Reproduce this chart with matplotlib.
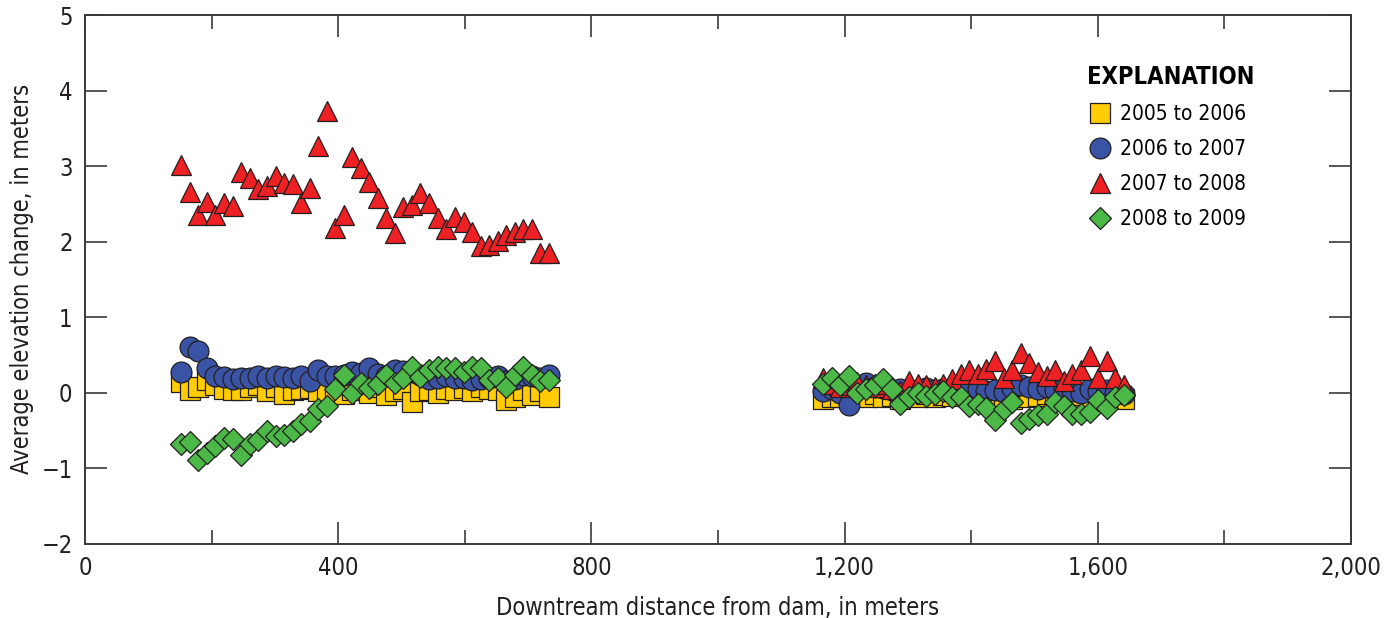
import matplotlib
matplotlib.use("Agg")
import matplotlib.pyplot as plt
from matplotlib.ticker import MultipleLocator, FuncFormatter

plt.rcParams['font.family'] = ['DejaVu Sans']
plt.rcParams['font.stretch'] = 'condensed'

# downstream distance of each sample, meters
x_left = [152, 166, 179, 193, 206, 220, 233, 247, 260, 274, 287, 301, 314, 328, 341,
          355, 368, 382, 395, 409, 422, 436, 449, 463, 476, 490, 503, 517, 530, 544,
          557, 571, 584, 598, 611, 625, 638, 652, 665, 679, 692, 706, 719, 733]
x_right = [1166, 1180, 1193, 1207, 1220, 1234, 1248, 1261, 1275, 1288, 1302, 1316,
           1329, 1343, 1356, 1370, 1384, 1397, 1411, 1424, 1438, 1452, 1465, 1479,
           1492, 1506, 1520, 1533, 1547, 1560, 1574, 1588, 1601, 1615, 1628, 1642]

# 2005 to 2006
y0506_left = [0.14, 0.04, 0.07, 0.17, 0.10, 0.05, 0.04, 0.03, 0.08, 0.10, 0.02, 0.07,
              -0.02, 0.04, 0.05, 0.06, 0.02, -0.02, 0.0, -0.02, 0.03, 0.06, 0.0, 0.08,
              -0.03, 0.02, 0.05, -0.12, 0.02, 0.04, 0.0, 0.05, 0.03, 0.06, 0.02, 0.08,
              0.05, 0.03, -0.09, -0.06, 0.04, -0.03, 0.02, -0.05]
y0506_right = [-0.08, -0.05, -0.06, -0.03, 0.0, -0.05, -0.02, -0.06, -0.04, -0.08,
               -0.03, -0.05, -0.02, -0.06, -0.03, -0.04, -0.02, -0.06, -0.08, -0.04,
               -0.02, -0.05, -0.08, -0.03, -0.06, -0.04, -0.02, -0.05, -0.08, -0.06,
               -0.03, -0.05, -0.08, -0.04, -0.06, -0.08]
# 2006 to 2007
y0607_left = [0.27, 0.60, 0.55, 0.33, 0.22, 0.21, 0.18, 0.19, 0.19, 0.22, 0.19, 0.22,
              0.21, 0.20, 0.22, 0.16, 0.30, 0.22, 0.22, 0.24, 0.27, 0.26, 0.33, 0.25,
              0.22, 0.30, 0.29, 0.27, 0.24, 0.18, 0.20, 0.22, 0.19, 0.20, 0.17, 0.18,
              0.20, 0.22, 0.16, 0.18, 0.24, 0.22, 0.20, 0.24]
y0607_right = [0.02, 0.05, 0.0, -0.16, 0.05, 0.13, 0.08, 0.06, 0.03, 0.05, 0.0, 0.04,
               0.06, 0.03, 0.05, 0.02, 0.06, 0.03, 0.05, 0.02, 0.04, 0.01, 0.06, 0.10,
               0.07, 0.05, 0.08, 0.03, 0.06, 0.02, 0.0, 0.05, 0.02, 0.03, 0.0, -0.02]
# 2007 to 2008
y0708_left = [3.02, 2.66, 2.35, 2.52, 2.35, 2.51, 2.47, 2.92, 2.84, 2.70, 2.74, 2.87,
              2.78, 2.76, 2.51, 2.71, 3.27, 3.73, 2.18, 2.35, 3.12, 2.98, 2.79, 2.58,
              2.31, 2.12, 2.46, 2.49, 2.65, 2.51, 2.31, 2.17, 2.33, 2.26, 2.13, 1.94,
              1.96, 2.01, 2.09, 2.13, 2.17, 2.17, 1.85, 1.85]
y0708_right = [0.20, 0.12, 0.08, 0.10, 0.14, 0.10, 0.08, 0.12, 0.05, 0.02, 0.15, 0.12,
               0.10, 0.08, 0.12, 0.18, 0.25, 0.30, 0.25, 0.32, 0.42, 0.20, 0.30, 0.52,
               0.40, 0.28, 0.22, 0.30, 0.15, 0.25, 0.30, 0.48, 0.20, 0.42, 0.20, 0.10]
# 2008 to 2009
y0809_left = [-0.68, -0.65, -0.89, -0.80, -0.70, -0.60, -0.61, -0.82, -0.68, -0.63,
              -0.50, -0.57, -0.56, -0.50, -0.42, -0.38, -0.21, -0.18, 0.05, 0.24, 0.0,
              0.13, 0.06, 0.12, 0.24, 0.13, 0.20, 0.34, 0.21, 0.30, 0.34, 0.33, 0.33,
              0.28, 0.34, 0.33, 0.17, 0.20, 0.08, 0.24, 0.34, 0.24, 0.15, 0.17]
y0809_right = [0.12, 0.20, 0.10, 0.22, 0.0, 0.05, 0.10, 0.18, 0.05, -0.15, -0.05, 0.0,
               -0.04, -0.02, 0.02, -0.05, -0.05, -0.18, -0.15, -0.20, -0.36, -0.22,
               -0.12, -0.40, -0.35, -0.30, -0.28, -0.12, -0.18, -0.28, -0.28, -0.25,
               -0.10, -0.20, -0.05, -0.03]

labels = ['2005 to 2006', '2006 to 2007', '2007 to 2008', '2008 to 2009']

fig = plt.figure(figsize=(13.87, 6.18), dpi=100)
ax = fig.add_axes([0.0613, 0.12, 0.9127, 0.8557])

edge = '#231f20'
series = [
    (y0506_left, y0506_right, 's', '#ffcc05', 14),
    (y0607_left, y0607_right, 'o', '#3a53a4', 15),
    (y0708_left, y0708_right, '^', '#ed2024', 15),
    (y0809_left, y0809_right, 'D', '#4cb848', 11),
]
for (yl, yr, m, c, ms), lab in zip(series, labels):
    ax.plot(x_left + x_right, yl + yr, linestyle='none', marker=m, ms=ms,
            mfc=c, mec=edge, mew=0.9, label=lab)

ax.set_xlim(0, 2000)
ax.set_ylim(-2, 5)
ax.xaxis.set_major_locator(MultipleLocator(400))
ax.xaxis.set_minor_locator(MultipleLocator(200))
ax.yaxis.set_major_locator(MultipleLocator(1))
ax.xaxis.set_major_formatter(FuncFormatter(lambda v, p: f'{int(v):,}'))
ax.yaxis.set_major_formatter(FuncFormatter(lambda v, p: f'{int(v)}'.replace('-', '\u2212')))
ax.tick_params(which='both', direction='in', top=True, right=True, width=1.2,
               colors='#3a3a3a', labelcolor='#231f20', labelsize=17)
ax.tick_params(which='major', length=16, pad=9)
ax.tick_params(which='minor', length=10)
for s in ax.spines.values():
    s.set_linewidth(1.4)
    s.set_color('#3a3a3a')

ax.set_xlabel('Downtream distance from dam, in meters', fontsize=17, color='#231f20', labelpad=11)
ax.set_ylabel('Average elevation change, in meters', fontsize=17, color='#231f20', labelpad=5)

leg = ax.legend(loc='upper left', bbox_to_anchor=(0.777, 0.94), frameon=False,
                title='EXPLANATION', fontsize=15, handletextpad=0.35,
                labelspacing=0.72, alignment='left', handlelength=1.2)
leg.get_title().set_fontweight('bold')
leg.get_title().set_fontsize(17)

fig.savefig('out.png', dpi=100)
